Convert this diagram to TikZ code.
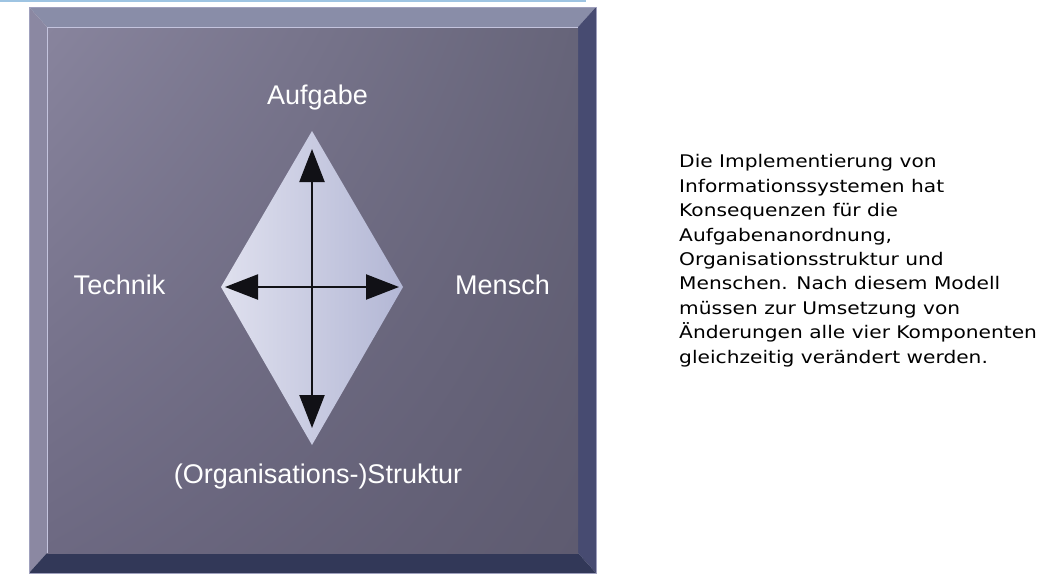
\documentclass[tikz,border=0pt]{standalone}
\usepackage{fontspec}
\setmainfont{Liberation Sans}
\newfontfamily\verd[FakeStretch=1.16]{DejaVu Sans}
\usetikzlibrary{arrows.meta,shadings}
\definecolor{topline}{HTML}{9EC4E2}
\definecolor{bevtop}{HTML}{898DA8}
\definecolor{bevleft}{HTML}{8B88A2}
\definecolor{bevright}{HTML}{474B71}
\definecolor{bevbot}{HTML}{323858}
\definecolor{faceUL}{HTML}{88849D}
\definecolor{faceUR}{HTML}{666479}
\definecolor{faceLL}{HTML}{6D6982}
\definecolor{faceLR}{HTML}{5E5B70}
\definecolor{hilite}{HTML}{C4C4DE}
\definecolor{diaL}{HTML}{DFE0EE}
\definecolor{diaR}{HTML}{B3B7D5}
\definecolor{arrowc}{HTML}{111116}
\tikzset{
  lbl/.style={text=white, font=\fontsize{27}{32}\selectfont, inner sep=0pt, anchor=base},
  dblarrow/.style={draw=arrowc, line width=2.2pt, {Triangle[length=33pt,width=25pt]}-{Triangle[length=33pt,width=25pt]}},
  bodytext/.style={font=\verd\fontsize{17.4}{24.4}\selectfont, align=left, anchor=north west, inner sep=0pt, text=black}
}
\begin{document}
\begin{tikzpicture}[x=1pt,y=-1pt]
\useasboundingbox (0,0) rectangle (1062,576);
% thin blue line at top
\fill[topline] (0,0) rectangle (586,2);
% bevels
\fill[bevtop] (29,7) -- (596,7) -- (578,27) -- (47,27) -- cycle;
\fill[bevleft] (29,7) -- (47,27) -- (47,553) -- (29,573) -- cycle;
\fill[bevright] (596,7) -- (596,573) -- (578,553) -- (578,27) -- cycle;
\fill[bevbot] (29,573) -- (596,573) -- (578,553) -- (47,553) -- cycle;
\draw[hilite!70!bevright, line width=0.8pt] (29,7) rectangle (596,573);
% face
\shade[upper left=faceUL, upper right=faceUR, lower left=faceLL, lower right=faceLR] (47,27) rectangle (578,553);
\draw[hilite, line width=1pt] (47,553) -- (47,27) -- (578,27);
% diamond
\coordinate (T) at (312,131);
\coordinate (B) at (312,445);
\coordinate (L) at (221,287);
\coordinate (R) at (403,287);
\shade[left color=diaL, right color=diaR] (T) -- (R) -- (B) -- (L) -- cycle;
\coordinate (Ta) at (312,149);
\coordinate (Ba) at (312,428);
\coordinate (La) at (225,287);
\coordinate (Ra) at (399,287);
\draw[dblarrow] (Ba) -- (Ta);
\draw[dblarrow] (La) -- (Ra);
% labels
\node[lbl] (auf) at (317.5,104) {Aufgabe};
\node[lbl] (tec) at (119.5,294) {Technik};
\node[lbl] (men) at (502.5,294) {Mensch};
\node[lbl] (str) at (318,483) {(Organisations-)Struktur};
% text
\node[bodytext] (txt) at (679,154.5) {Die Implementierung von\\Informationssystemen hat\\Konsequenzen für die\\Aufgabenanordnung,\\Organisationsstruktur und\\Menschen. Nach diesem Modell\\müssen zur Umsetzung von\\Änderungen alle vier Komponenten\\gleichzeitig verändert werden.};
\end{tikzpicture}
\end{document}
